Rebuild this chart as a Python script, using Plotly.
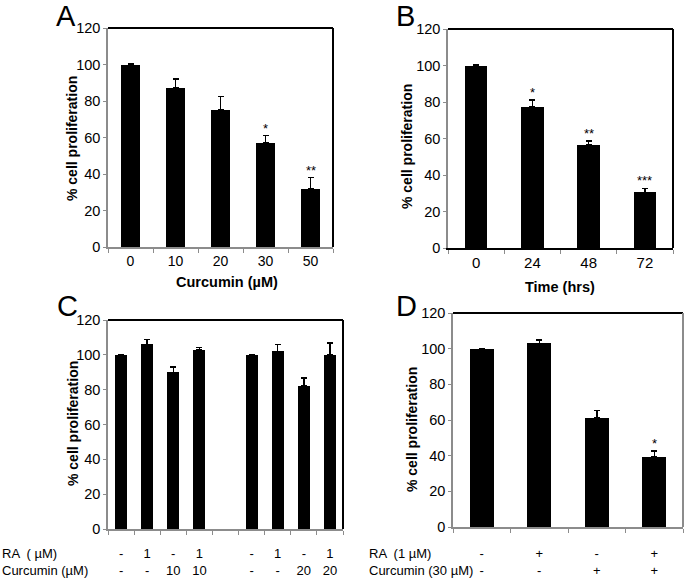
import plotly.graph_objects as go

W, H = 685, 579
FONT = "Arial, Liberation Sans, sans-serif"
GREY = "#8c8c8c"

# ---- data ----
# A: curcumin dose
a_conc = ["0", "10", "20", "30", "50"]
a_val = [100, 87, 75, 57, 32]
a_err = [0.4, 5, 7.5, 4, 6]
a_sig = ["", "", "", "*", "**"]

# B: time course
b_time = ["0", "24", "48", "72"]
b_val = [100, 77.5, 56.5, 30.5]
b_err = [0.3, 3.7, 2, 2.2]
b_sig = ["", "*", "**", "***"]

# C: RA + curcumin 10 / 20 uM (two sets, gap between them)
c_ra = ["-", "1", "-", "1", "-", "1", "-", "1"]
c_cur = ["-", "-", "10", "10", "-", "-", "20", "20"]
c_val = [100, 106, 90, 103, 100, 102, 82, 100]
c_err = [0, 2.9, 3, 1.2, 0, 4, 4.8, 6.8]

# D: RA 1 uM + curcumin 30 uM
d_ra = ["-", "+", "-", "+"]
d_cur = ["-", "-", "+", "+"]
d_val = [100, 103, 61, 39.5]
d_err = [0, 1.9, 4.3, 3.2]
d_sig = ["", "", "", "*"]


def px_x(p):
    return p / W


def px_y(p):
    return 1 - p / H


# slot positions; in C the second set is shifted by one empty slot
a_slot = list(range(len(a_val)))
b_slot = list(range(len(b_val)))
c_slot = [i + (1 if i >= 4 else 0) for i in range(len(c_val))]
d_slot = list(range(len(d_val)))

fig = go.Figure()


def bars(x, y, err, width, xa, ya):
    fig.add_trace(go.Bar(
        x=x, y=y, width=width, marker=dict(color="black", line=dict(width=0)),
        error_y=dict(type="data", symmetric=False, array=err, arrayminus=[0] * len(err),
                     color="black", thickness=1.5, width=3),
        xaxis=xa, yaxis=ya, showlegend=False))


bars(a_slot, a_val, a_err, 0.42, "x", "y")
bars(b_slot, b_val, b_err, 0.4, "x2", "y2")
bars(c_slot, c_val, c_err, 0.46, "x3", "y3")
bars(d_slot, d_val, d_err, 0.42, "x4", "y4")

yax = dict(range=[0, 120], dtick=20, ticks="outside", ticklen=3, tickcolor=GREY,
           showline=True, linecolor=GREY, linewidth=1.5, showgrid=False, zeroline=False,
           automargin=False, tickfont=dict(family=FONT, size=14.5, color="black"))


def xax(lo, hi, anchor, slots, text, n, size, linecolor=GREY, lw=1.5, standoff=None):
    d = dict(domain=[px_x(lo), px_x(hi)], anchor=anchor, range=[-0.5, n - 0.5],
             tickmode="array", tickvals=slots, ticktext=text, ticks="",
             minor=dict(tickmode="array", tickvals=[k + 0.5 for k in range(-1, n)],
                        ticks="outside", ticklen=4, tickcolor=GREY),
             showline=True, linecolor=linecolor, linewidth=lw, showgrid=False,
             zeroline=False, automargin=False, tickfont=dict(size=size))
    if standoff is not None:
        d["ticklabelstandoff"] = standoff
    return d


fig.update_layout(
    width=W, height=H, margin=dict(l=0, r=0, t=0, b=0, autoexpand=False),
    template="none",
    plot_bgcolor="white", paper_bgcolor="white", bargap=0,
    font=dict(family=FONT, color="black"),
    xaxis=xax(108, 333, "y", a_slot, a_conc, 5, 14),
    yaxis=dict(domain=[px_y(247), px_y(28)], anchor="x", **yax),
    xaxis2=xax(448, 673, "y2", b_slot, b_time, 4, 15, linecolor="black", lw=2),
    yaxis2=dict(domain=[px_y(248), px_y(29)], anchor="x2", **yax),
    xaxis3=xax(108, 343, "y3", c_slot, [r + "<br>" + c for r, c in zip(c_ra, c_cur)],
               9, 13, standoff=12),
    yaxis3=dict(domain=[px_y(529), px_y(320)], anchor="x3", **yax),
    xaxis4=xax(453, 683, "y4", d_slot, [r + "<br>" + c for r, c in zip(d_ra, d_cur)],
               4, 13, standoff=14),
    yaxis4=dict(domain=[px_y(527), px_y(313)], anchor="x4", **yax),
)

# top / right frame lines
for xa, ya, rc in [("x", "y", "black"), ("x2", "y2", "black"), ("x3", "y3", "black"), ("x4", "y4", GREY)]:
    fig.add_shape(type="line", xref=xa + " domain", yref=ya + " domain", x0=0, x1=1, y0=1, y1=1,
                  line=dict(color="black", width=2))
    fig.add_shape(type="line", xref=xa + " domain", yref=ya + " domain", x0=1, x1=1, y0=0, y1=1,
                  line=dict(color=rc, width=2))

# significance stars
for xs, vals, errs, sig, xa, ya in [(a_slot, a_val, a_err, a_sig, "x", "y"),
                                    (b_slot, b_val, b_err, b_sig, "x2", "y2"),
                                    (d_slot, d_val, d_err, d_sig, "x4", "y4")]:
    for xv, v, e, s in zip(xs, vals, errs, sig):
        if s:
            fig.add_annotation(x=xv, y=v + e, xref=xa, yref=ya, text=s, showarrow=False,
                               yanchor="bottom", yshift=-2, font=dict(size=13))


def note(x, y, text, size, xanchor="center", angle=0, pad=1):
    fig.add_annotation(x=px_x(x), y=px_y(y), xref="paper", yref="paper", text=text,
                       xanchor=xanchor, yanchor="middle", textangle=angle, borderpad=pad,
                       showarrow=False, font=dict(size=size))


# y axis titles
for x, y in [(72, 139), (407, 147), (73, 424), (412, 430)]:
    note(x, y, "<b>% cell proliferation</b>", 14, angle=-90)

# x axis titles
note(227, 282, "<b>Curcumin (µM)</b>", 14.5)
note(560, 287, "<b>Time (hrs)</b>", 14.5)

# row labels under C and D
for x, y, t in [(0, 553, "RA  ( µM)"), (0, 570, "Curcumin (µM)"),
                (367, 553, "RA  (1 µM)"), (367, 570, "Curcumin (30 µM)")]:
    note(x, y, t, 13, xanchor="left")

# panel letters
for x, y, t in [(66, 16, "A"), (405, 16, "B"), (67, 306, "C"), (406, 306, "D")]:
    note(x, y, t, 29, pad=0)

fig.write_html("out.html", config={"displayModeBar": False},
               post_script="document.body.style.margin='0px';")
